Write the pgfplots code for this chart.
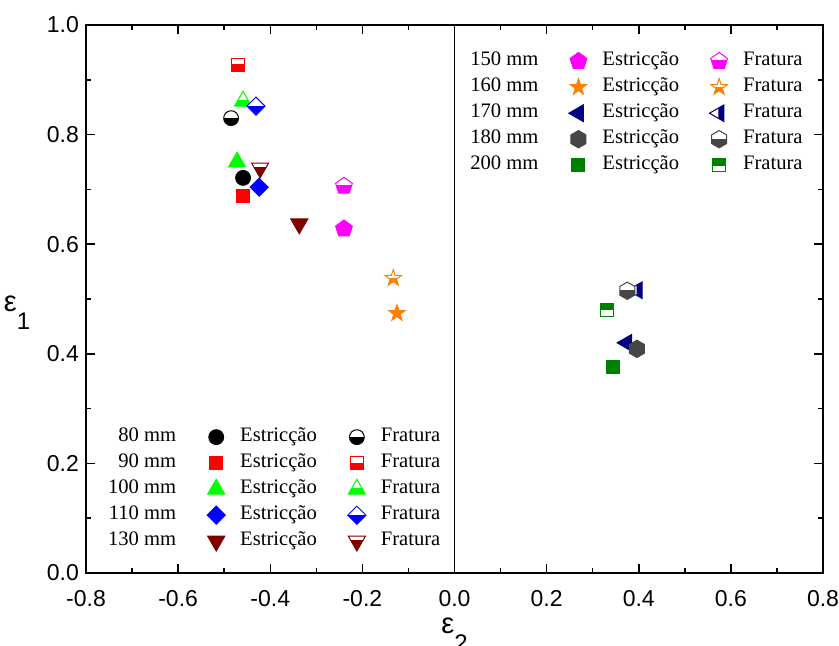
\documentclass[border=0pt]{standalone}
\usepackage{fontspec}
\setmainfont{Liberation Serif}
\setsansfont{Liberation Sans}
\usepackage{pgfplots}
\pgfplotsset{compat=1.18}

\definecolor{cRed}{HTML}{FF0000}
\definecolor{cGreen}{HTML}{00FF00}
\definecolor{cBlue}{HTML}{0000FF}
\definecolor{cWine}{HTML}{800000}
\definecolor{cMag}{HTML}{FF00FF}
\definecolor{cOrange}{HTML}{FF8000}
\definecolor{cNavy}{HTML}{000080}
\definecolor{cGray}{HTML}{464646}
\definecolor{cOlive}{HTML}{008000}

% marker outlines
\newcommand\mkpoly[3]{%
  \pgfpathmoveto{\pgfpointpolar{#2}{#3\pgfplotmarksize}}%
  \pgfplotsforeachungrouped \mkidx in {1,...,#1}{%
    \pgfmathsetmacro\mkang{#2+360/#1*\mkidx}%
    \pgfpathlineto{\pgfpointpolar{\mkang}{#3\pgfplotmarksize}}}%
  \pgfpathclose}
\newcommand\mkstar[2]{%
  \pgfpathmoveto{\pgfpointpolar{90}{#1\pgfplotmarksize}}%
  \pgfplotsforeachungrouped \mkidx in {1,...,9}{%
    \pgfmathsetmacro\mkang{90+36*\mkidx}%
    \ifodd\mkidx\relax\def\mkrad{#2}\else\def\mkrad{#1}\fi
    \pgfpathlineto{\pgfpointpolar{\mkang}{\mkrad\pgfplotmarksize}}}%
  \pgfpathclose}
% clip regions for the half filled marks
\newcommand\clipbelow[1]{\pgfpathrectangle{\pgfpoint{-3\pgfplotmarksize}{-3\pgfplotmarksize}}{\pgfpoint{6\pgfplotmarksize}{(3+#1)*\pgfplotmarksize}}}
\newcommand\clipabove[1]{\pgfpathrectangle{\pgfpoint{-3\pgfplotmarksize}{#1*\pgfplotmarksize}}{\pgfpoint{6\pgfplotmarksize}{3\pgfplotmarksize}}}
\newcommand\clipright[1]{\pgfpathrectangle{\pgfpoint{#1*\pgfplotmarksize}{-3\pgfplotmarksize}}{\pgfpoint{3\pgfplotmarksize}{6\pgfplotmarksize}}}
% f<name> = filled, h<name> = half filled
\newcommand\declmarks[3]{%
  \pgfdeclareplotmark{f#1}{#2\pgfusepathqfillstroke}%
  \pgfdeclareplotmark{h#1}{%
    \pgfscope\pgfsetfillcolor{white}#2\pgfusepathqfill\endpgfscope
    \pgfinterruptboundingbox
    \pgfscope#3\pgfusepath{clip}#2\pgfusepathqfill\endpgfscope
    \endpgfinterruptboundingbox
    #2\pgfusepathqstroke}}
\declmarks{circ}{\pgfpathcircle{\pgfpointorigin}{\pgfplotmarksize}}{\clipbelow{0}}
\declmarks{sq}{\mkpoly{4}{45}{1.24}}{\clipbelow{0}}
\declmarks{sqt}{\mkpoly{4}{45}{1.24}}{\clipabove{0}}
\declmarks{tup}{\mkpoly{3}{90}{1.33}}{\clipbelow{0.05}}
\declmarks{dia}{\mkpoly{4}{90}{1.22}}{\clipbelow{0}}
\declmarks{tdn}{\mkpoly{3}{-90}{1.33}}{\clipbelow{0.1}}
\declmarks{pent}{\mkpoly{5}{90}{1.19}}{\clipbelow{0.1}}
\declmarks{star}{\mkstar{1.16}{0.45}}{\clipbelow{0}}
\declmarks{tlf}{\mkpoly{3}{180}{1.3}}{\clipright{-0.1}}
\declmarks{hex}{\mkpoly{6}{90}{1.17}}{\clipbelow{0}}

\newcommand\lblfont{\sffamily\fontsize{14.5}{16}\selectfont}
\newcommand\subfont{\sffamily\fontsize{12}{14}\selectfont}

\pgfplotsset{
  base/.style={
    scale only axis, width=368.5pt, height=274pt,
    xmin=-0.8, xmax=0.8, ymin=0, ymax=1,
  },
  pt/.style={only marks, color=#1, mark size=3.7pt,
    mark options={line width=0.5pt, solid},
    legend image code/.code={%
      \draw[##1] plot coordinates {(0pt,0pt)};
      \path[draw=none, fill=none] (-6pt,-5pt) rectangle (6pt,5pt);}},
  lgd/.style={legend columns=3, legend cell align=right,
    legend style={draw=none, fill=none, inner sep=1pt, row sep=0pt,
      font=\fontsize{10.3}{12}\selectfont,
      nodes={inner xsep=2pt, inner ysep=1.75pt, text height=7pt, text depth=2.5pt},
      cells={inner xsep=2pt, inner ysep=1.75pt, text height=7pt, text depth=2.5pt},
      /tikz/every odd column/.append style={column sep=4pt},
      /tikz/every even column/.append style={column sep=12pt}}},
}

\begin{document}
\begin{tikzpicture}
\useasboundingbox (-43pt,-36.5pt) rectangle (376.5pt,286.5pt);
\begin{axis}[base, lgd,
  xtick={-0.8,-0.6,-0.4,-0.2,0,0.2,0.4,0.6,0.8},
  ytick={0,0.2,0.4,0.6,0.8,1.0},
  minor x tick num=1, minor y tick num=1,
  tick align=inside,
  major tick length=4.5pt, minor tick length=2.5pt,
  tick style={black, line width=0.75pt},
  axis line style={line width=0.8pt},
  /pgf/number format/.cd, fixed, fixed zerofill, precision=1, assume math mode=true,
  /pgfplots/.cd,
  tick label style={font=\sffamily\fontsize{11.5}{13}\selectfont},
  xticklabel style={yshift=-5pt},
  xlabel={\lblfont ε\raisebox{-9pt}{\subfont 2}},
  ylabel={\lblfont ε\raisebox{-9pt}{\subfont 1}},
  every axis x label/.style={at={(axis description cs:0.5,0)}, anchor=base, yshift=-30.5pt, font=\lblfont},
  every axis y label/.style={at={(axis description cs:0,0.478)}, anchor=base, xshift=-34.5pt, font=\lblfont},
  legend style={at={(0.0105,0.276)}, anchor=north west},
]
\draw[line width=0.8pt] (axis cs:0,0) -- (axis cs:0,1);
% 80 mm
\addlegendimage{empty legend}\addlegendentry{80 mm}
\addplot[pt=black, mark=fcirc] coordinates {(-0.459,0.721)};
\addlegendentry{Estricção}
\addplot[pt=black, mark=hcirc] coordinates {(-0.485,0.830)};
\addlegendentry{Fratura}
% 90 mm
\addlegendimage{empty legend}\addlegendentry{90 mm}
\addplot[pt=cRed, mark=fsq] coordinates {(-0.459,0.688)};
\addlegendentry{Estricção}
\addplot[pt=cRed, mark=hsq] coordinates {(-0.470,0.927)};
\addlegendentry{Fratura}
% 100 mm
\addlegendimage{empty legend}\addlegendentry{100 mm}
\addplot[pt=cGreen, mark=ftup] coordinates {(-0.472,0.750)};
\addlegendentry{Estricção}
\addplot[pt=cGreen, mark=htup] coordinates {(-0.459,0.861)};
\addlegendentry{Fratura}
% 110 mm
\addlegendimage{empty legend}\addlegendentry{110 mm}
\addplot[pt=cBlue, mark=fdia] coordinates {(-0.424,0.704)};
\addlegendentry{Estricção}
\addplot[pt=cBlue, mark=hdia] coordinates {(-0.431,0.852)};
\addlegendentry{Fratura}
% 130 mm
\addlegendimage{empty legend}\addlegendentry{130 mm}
\addplot[pt=cWine, mark=ftdn] coordinates {(-0.337,0.637)};
\addlegendentry{Estricção}
\addplot[pt=cWine, mark=htdn] coordinates {(-0.422,0.739)};
\addlegendentry{Fratura}
\end{axis}

\begin{axis}[base, lgd, hide axis,
  legend style={at={(0.502,0.962)}, anchor=north west},
]
% 150 mm
\addlegendimage{empty legend}\addlegendentry{150 mm}
\addplot[pt=cMag, mark=fpent] coordinates {(-0.240,0.628)};
\addlegendentry{Estricção}
\addplot[pt=cMag, mark=hpent] coordinates {(-0.240,0.706)};
\addlegendentry{Fratura}
% 160 mm
\addlegendimage{empty legend}\addlegendentry{160 mm}
\addplot[pt=cOrange, mark=fstar] coordinates {(-0.125,0.474)};
\addlegendentry{Estricção}
\addplot[pt=cOrange, mark=hstar] coordinates {(-0.133,0.538)};
\addlegendentry{Fratura}
% 170 mm
\addlegendimage{empty legend}\addlegendentry{170 mm}
\addplot[pt=cNavy, mark=ftlf] coordinates {(0.374,0.420)};
\addlegendentry{Estricção}
\addplot[pt=cNavy, mark=htlf] coordinates {(0.397,0.516)};
\addlegendentry{Fratura}
% 180 mm
\addlegendimage{empty legend}\addlegendentry{180 mm}
\addplot[pt=cGray, mark=fhex] coordinates {(0.396,0.409)};
\addlegendentry{Estricção}
\addplot[pt=cGray, mark=hhex] coordinates {(0.375,0.515)};
\addlegendentry{Fratura}
% 200 mm
\addlegendimage{empty legend}\addlegendentry{200 mm}
\addplot[pt=cOlive, mark=fsq] coordinates {(0.344,0.376)};
\addlegendentry{Estricção}
\addplot[pt=cOlive, mark=hsqt] coordinates {(0.330,0.480)};
\addlegendentry{Fratura}
\end{axis}
\end{tikzpicture}
\end{document}
